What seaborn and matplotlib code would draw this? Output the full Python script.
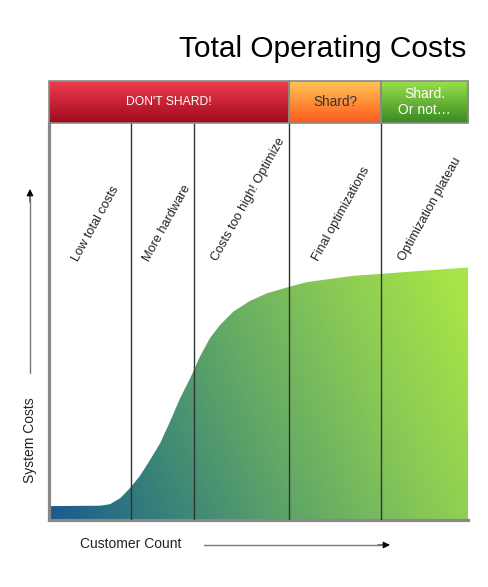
import numpy as np
import pandas as pd
import matplotlib
matplotlib.use('Agg')
import matplotlib.pyplot as plt
import seaborn as sns
from matplotlib.colors import LinearSegmentedColormap
from matplotlib.patches import Rectangle
from matplotlib.lines import Line2D

# curve (customer count 0-100, system cost 0-100)
customers = [0, 12.2, 14.6, 17.0, 19.3, 21.7, 24.1, 26.5, 28.9, 31.3, 33.7, 36.0,
             38.4, 40.8, 44.0, 48.0, 52.0, 57.5, 61.5, 65.5, 72.6, 79.3, 89.3, 100]
costs = [3.5, 3.6, 4.0, 5.5, 8.0, 11.1, 15.1, 19.3, 24.8, 30.7, 35.7, 41.1,
         45.8, 49.1, 52.5, 55.2, 57.1, 58.8, 59.9, 60.5, 61.5, 62.0, 62.8, 63.6]

# phase dividers and their labels
dividers = [19.6, 34.6, 57.3, 79.2]
phase_labels = ['Low total costs', 'More hardware', 'Costs too high! Optimize',
                'Final optimizations', 'Optimization plateau']
label_x = [6.9, 23.8, 40.3, 64.4, 84.7]

# header bands
band_edges = [0, 57.3, 79.2, 100]
band_text = ["DON'T SHARD!", 'Shard?', 'Shard.\nOr not\u2026']
band_text_color = ['white', '#333333', 'white']
band_font = [8.7, 9.8, 10]
band_top = ['#f23e4e', '#ffc657', '#9ce24b']
band_bottom = ['#9e0a1d', '#ff5a1d', '#388a22']

sns.set_style('white')
plt.rcParams['font.family'] = ['Liberation Sans', 'DejaVu Sans']

W, H = 488, 587
fig = plt.figure(figsize=(W / 100, H / 100), dpi=100)


def fx(px):
    return px / W


def fy(py):
    return 1 - py / H


ax = fig.add_axes([fx(49), fy(520), fx(468) - fx(49), fy(123) - fy(520)])
ax.set_xlim(0, 100)
ax.set_ylim(0, 100)

# gradient area under the curve
poly = ax.fill_between(customers, costs, 0, color='none', lw=0)
gx, gy = np.meshgrid(np.linspace(0, 1, 300), np.linspace(0, 1, 300))
t = np.clip(0.82 * gx + 0.35 * gy, 0, 1)
cmap = LinearSegmentedColormap.from_list('cost', ['#1a5a92', '#3a8478', '#62a866',
                                                  '#88c856', '#a6e447'])
img = ax.imshow(t, cmap=cmap, extent=[0, 100, 0, 100], origin='lower',
                aspect='auto', vmin=0, vmax=1, zorder=1)
img.set_clip_path(poly.get_paths()[0], transform=ax.transData)

# divider lines
div_df = pd.DataFrame({'x': np.repeat(dividers, 2),
                       'y': [0, 100] * len(dividers),
                       'line': np.repeat(range(len(dividers)), 2)})
sns.lineplot(data=div_df, x='x', y='y', units='line', estimator=None,
             color='#333333', lw=1, ax=ax, zorder=3)

for lx, txt in zip(label_x, phase_labels):
    ax.text(lx, 65.0, txt, rotation=61, rotation_mode='anchor', ha='left',
            va='baseline', fontsize=9.2, color='#222222', zorder=4)

ax.set_xticks([])
ax.set_yticks([])
ax.set_xlabel('')
ax.set_ylabel('')
for side in ['top', 'right']:
    ax.spines[side].set_visible(False)
for side in ['left', 'bottom']:
    ax.spines[side].set_color('#888888')
    ax.spines[side].set_linewidth(2.3)

# header bar
hax = fig.add_axes([fx(49), fy(123), fx(468) - fx(49), fy(81) - fy(123)])
hax.set_xlim(0, 100)
hax.set_ylim(0, 1)
hax.axis('off')
for i in range(3):
    x0, x1 = band_edges[i], band_edges[i + 1]
    bcmap = LinearSegmentedColormap.from_list('b%d' % i, [band_bottom[i], band_top[i]])
    hax.imshow(np.linspace(0, 1, 100).reshape(-1, 1), cmap=bcmap, origin='lower',
               extent=[x0, x1, 0, 1], aspect='auto')
    hax.add_patch(Rectangle((x0, 0), x1 - x0, 1, fill=False, ec='#8a8a8a', lw=1.2,
                            clip_on=False))
    hax.text((x0 + x1) / 2, 0.5, band_text[i], ha='center', va='center',
             fontsize=band_font[i], color=band_text_color[i], linespacing=1.1)
hax.set_xlim(0, 100)
hax.set_ylim(0, 1)

# title and axis captions
fig.text(fx(466), fy(57), 'Total Operating Costs', ha='right', va='baseline',
         fontsize=21.5, color='black')
fig.text(fx(131), fy(544), 'Customer Count', ha='center', va='center',
         fontsize=10, color='#222222')
fig.text(fx(30), fy(440), 'System Costs', ha='center', va='center',
         rotation=90, fontsize=10, color='#222222')

# arrows
fig.add_artist(Line2D([fx(204), fx(382)], [fy(545), fy(545)], color='#777777',
                      lw=1, transform=fig.transFigure))
fig.add_artist(Line2D([fx(30), fx(30)], [fy(373), fy(198)], color='#777777',
                      lw=1, transform=fig.transFigure))
ax.annotate('', xy=(fx(390), fy(545)), xytext=(fx(378), fy(545)),
            xycoords='figure fraction', textcoords='figure fraction',
            arrowprops=dict(arrowstyle='-|>', color='black', lw=0.8,
                            mutation_scale=10, shrinkA=0, shrinkB=0))
ax.annotate('', xy=(fx(30), fy(189)), xytext=(fx(30), fy(202)),
            xycoords='figure fraction', textcoords='figure fraction',
            arrowprops=dict(arrowstyle='-|>', color='black', lw=0.8,
                            mutation_scale=10, shrinkA=0, shrinkB=0))

fig.savefig('out.png', dpi=100)
